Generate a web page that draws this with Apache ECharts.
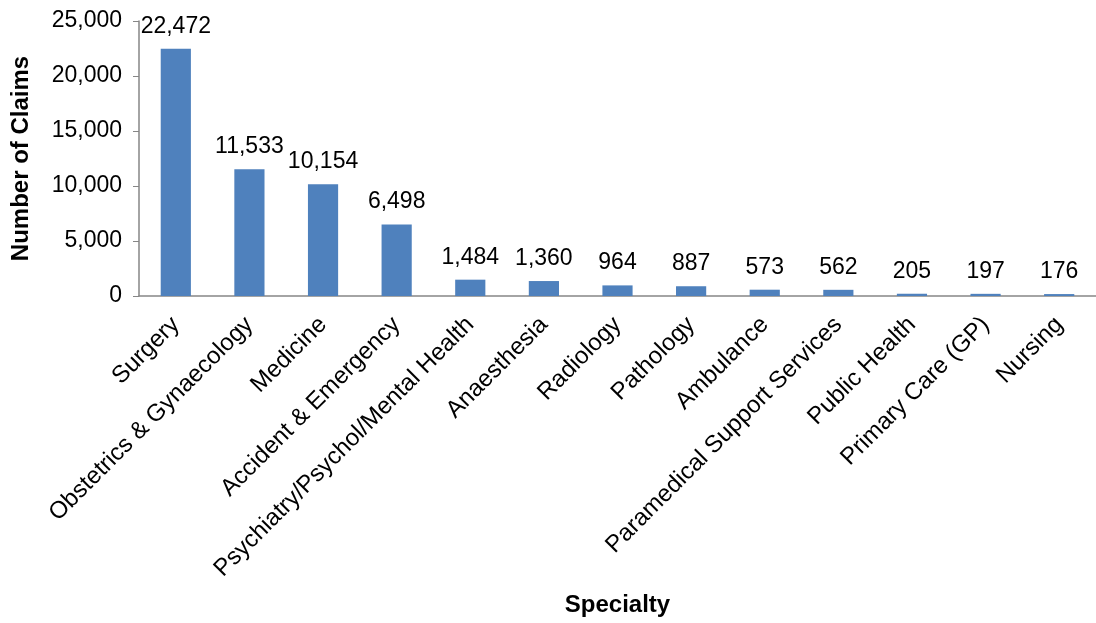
<!DOCTYPE html>
<html>
<head>
<meta charset="utf-8">
<script src="https://cdn.jsdelivr.net/npm/echarts@6/dist/echarts.min.js"></script>
<style>
html, body { margin: 0; padding: 0; background: #fff; }
#chart { width: 1096px; height: 623px; }
</style>
</head>
<body>
<div id="chart"></div>
<script>
// Claims by specialty
const specialties = [
  'Surgery', 'Obstetrics & Gynaecology', 'Medicine', 'Accident & Emergency',
  'Psychiatry/Psychol/Mental Health', 'Anaesthesia', 'Radiology', 'Pathology',
  'Ambulance', 'Paramedical Support Services', 'Public Health',
  'Primary Care (GP)', 'Nursing'
];
const claims = [22472, 11533, 10154, 6498, 1484, 1360, 964, 887, 573, 562, 205, 197, 176];
const yTicks = [0, 5000, 10000, 15000, 20000, 25000];

const fmt = v => Number(v).toLocaleString('en-US');
const FONT = '"Liberation Sans", Arial, sans-serif';

const chart = echarts.init(document.getElementById('chart'));
chart.setOption({
  animation: false,
  grid: { left: 139, right: 0, top: 21, bottom: 327, containLabel: false },
  xAxis: {
    type: 'category',
    data: specialties,
    name: 'Specialty',
    nameLocation: 'middle',
    nameGap: 297,
    nameTextStyle: { fontFamily: FONT, fontSize: 24, fontWeight: 'bold', color: '#000' },
    axisLine: { lineStyle: { color: '#868686', width: 1.5 } },
    axisTick: { show: false },
    axisLabel: {
      rotate: 45, interval: 0, margin: 25,
      fontFamily: FONT, fontSize: 24, color: '#000'
    }
  },
  yAxis: {
    type: 'value',
    min: yTicks[0],
    max: yTicks[yTicks.length - 1],
    interval: 5000,
    name: 'Number of Claims',
    nameLocation: 'middle',
    nameGap: 106,
    nameTextStyle: { fontFamily: FONT, fontSize: 24, fontWeight: 'bold', color: '#000' },
    axisLine: { show: true, lineStyle: { color: '#868686', width: 1.5 } },
    axisTick: { show: true, length: 6, lineStyle: { color: '#868686' } },
    splitLine: { show: false },
    axisLabel: {
      margin: 17, fontFamily: FONT, fontSize: 23, color: '#000',
      formatter: fmt
    }
  },
  series: [{
    type: 'bar',
    data: claims,
    barWidth: '41%',
    itemStyle: { color: '#4F81BD' },
    label: {
      show: true, position: 'top', distance: 11,
      fontFamily: FONT, fontSize: 23, color: '#000',
      formatter: p => fmt(p.value)
    }
  }]
});
</script>
</body>
</html>
